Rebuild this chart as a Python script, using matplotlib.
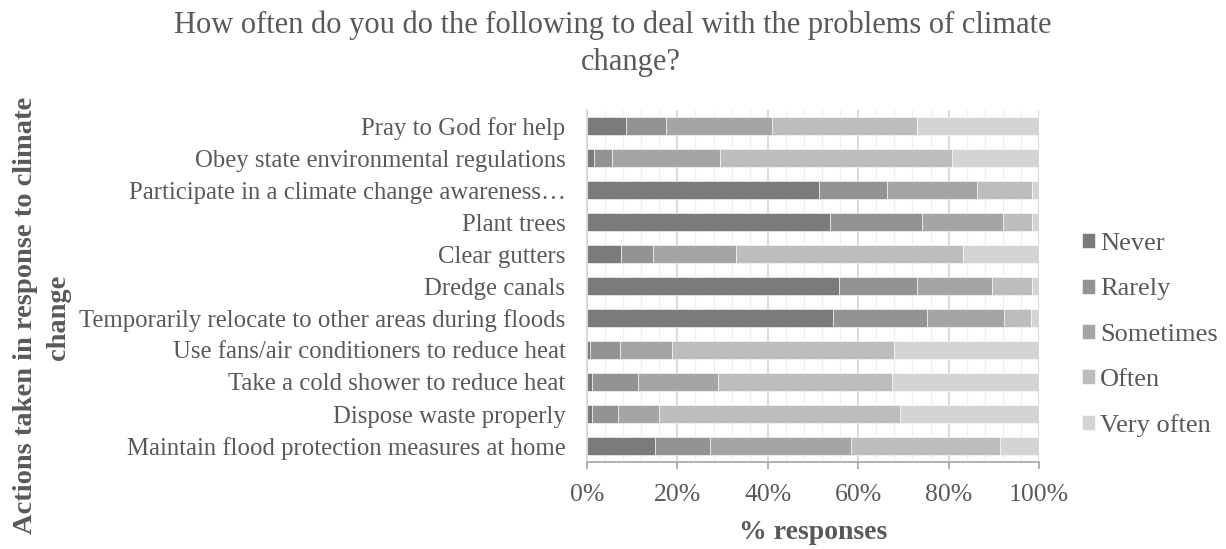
import matplotlib
matplotlib.use("Agg")
import matplotlib.pyplot as plt
import numpy as np
from matplotlib.ticker import MultipleLocator, PercentFormatter

actions = [
    "Pray to God for help",
    "Obey state environmental regulations",
    "Participate in a climate change awareness\u2026",
    "Plant trees",
    "Clear gutters",
    "Dredge canals",
    "Temporarily relocate to other areas during floods",
    "Use fans/air conditioners to reduce heat",
    "Take a cold shower to reduce heat",
    "Dispose waste properly",
    "Maintain flood protection measures at home",
]

levels = ["Never", "Rarely", "Sometimes", "Often", "Very often"]

never      = [8.6, 1.5, 51.3, 53.7, 7.5, 55.7, 54.4, 0.6, 1.0, 1.0, 15.0]
rarely     = [8.8, 4.1, 15.0, 20.4, 7.1, 17.3, 20.9, 6.6, 10.2, 5.8, 12.2]
sometimes  = [23.5, 23.8, 20.0, 17.9, 18.3, 16.6, 17.0, 11.6, 17.8, 9.1, 31.2]
often      = [32.1, 51.3, 12.2, 6.4, 50.3, 8.8, 5.9, 49.1, 38.5, 53.3, 33.0]
very_often = [27.0, 19.3, 1.5, 1.6, 16.8, 1.6, 1.8, 32.1, 32.5, 30.8, 8.6]

series = [never, rarely, sometimes, often, very_often]
colors = ["#7b7b7b", "#939393", "#a5a5a5", "#bdbdbd", "#d4d4d4"]

TEXT = "#595959"
SERIF = ["Liberation Serif", "DejaVu Serif"]
plt.rcParams["font.family"] = SERIF

W, H, DPI = 1226, 549, 100
fig = plt.figure(figsize=(W / DPI, H / DPI), dpi=DPI)

# plot area in pixel coordinates
x0, x1, ytop, ybot = 587, 1039, 110, 462
ax = fig.add_axes([x0 / W, (H - ybot) / H, (x1 - x0) / W, (ybot - ytop) / H])

y = np.arange(len(actions))
left = np.zeros(len(actions))
for vals, col, lab in zip(series, colors, levels):
    vals = np.asarray(vals, dtype=float)
    ax.barh(y, vals, left=left, height=0.56, color=col, label=lab,
            edgecolor="white", linewidth=0.4, zorder=3)
    left += vals

ax.set_xlim(0, 100)
ax.set_ylim(len(actions) - 0.5, -0.5)
ax.set_yticks(y)
ax.set_yticklabels(actions, fontsize=17.8, color=TEXT)
ax.tick_params(axis="y", length=0, pad=15.5)

ax.xaxis.set_major_locator(MultipleLocator(20))
ax.xaxis.set_minor_locator(MultipleLocator(4))
ax.xaxis.set_major_formatter(PercentFormatter(decimals=0))
ax.tick_params(axis="x", which="major", length=5, width=1.2, color="#a6a6a6",
               labelsize=18.5, labelcolor=TEXT, pad=11)
ax.tick_params(axis="x", which="minor", length=0)

ax.grid(axis="x", which="major", color="#d9d9d9", linewidth=1.4, zorder=0)
ax.grid(axis="x", which="minor", color="#f0f0f0", linewidth=1.0, zorder=0)

for s in ["top", "right"]:
    ax.spines[s].set_visible(False)
ax.spines["left"].set_color("#d9d9d9")
ax.spines["left"].set_linewidth(1.4)
ax.spines["bottom"].set_color("#a6a6a6")
ax.spines["bottom"].set_linewidth(1.2)

ax.set_xlabel("% responses", fontsize=20, fontweight="bold", color=TEXT, labelpad=10)

# two-line chart title
fig.text(613 / W, 1 - 33 / H,
         "How often do you do the following to deal with the problems of climate",
         ha="center", va="baseline", fontsize=22, color=TEXT)
fig.text(631 / W, 1 - 70 / H, "change?",
         ha="center", va="baseline", fontsize=22, color=TEXT)

# rotated two-line category axis title
fig.text(26 / W, 1 - 315 / H, "Actions taken in response to climate",
         rotation=90, ha="center", va="center", fontsize=20.5,
         fontweight="bold", color=TEXT)
fig.text(58 / W, 1 - 317 / H, "change",
         rotation=90, ha="center", va="center", fontsize=20.5,
         fontweight="bold", color=TEXT)

leg = ax.legend(loc="center left", bbox_to_anchor=(1071 / W, 1 - 335 / H),
                bbox_transform=fig.transFigure, frameon=False,
                fontsize=19, labelcolor=TEXT, handlelength=0.5, handleheight=0.5,
                handletextpad=0.2, labelspacing=0.875, borderaxespad=0)

fig.savefig("out.png", dpi=DPI, facecolor="white")
